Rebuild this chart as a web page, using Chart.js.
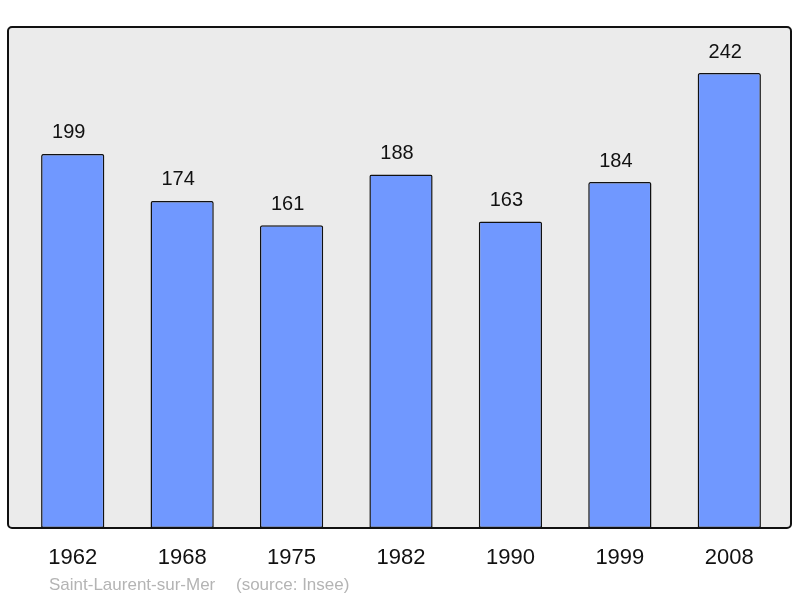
<!DOCTYPE html>
<html><head><meta charset="utf-8">
<script src="https://cdn.jsdelivr.net/npm/chart.js@4"></script>
<style>html,body{margin:0;padding:0;background:#fff}#w{width:800px;height:598px}</style>
</head><body><div id="w"><canvas id="c"></canvas></div>
<script>
const years = ["1962","1968","1975","1982","1990","1999","2008"];
const population = [199,174,161,188,163,184,242];
const footerName = "Saint-Laurent-sur-Mer";
const footerSource = "(source: Insee)";

const FONT = "'Liberation Sans', Arial, sans-serif";

const framePlugin = {
  id: 'frame',
  beforeDraw(chart) {
    const {ctx, chartArea: a} = chart;
    const x0 = a.left - 10, x1 = a.right + 7, y0 = a.top, y1 = a.bottom;
    ctx.save();
    ctx.beginPath();
    ctx.roundRect(x0, y0, x1 - x0, y1 - y0, 4);
    ctx.fillStyle = '#ebebeb';
    ctx.fill();
    ctx.restore();
  },
  afterDatasetsDraw(chart) {
    const {ctx, chartArea: a} = chart;
    const x0 = a.left - 10, x1 = a.right + 7, y0 = a.top, y1 = a.bottom;
    ctx.save();
    ctx.beginPath();
    ctx.roundRect(x0, y0, x1 - x0, y1 - y0, 4);
    ctx.lineWidth = 2;
    ctx.strokeStyle = '#111';
    ctx.stroke();
    // value labels
    const meta = chart.getDatasetMeta(0);
    ctx.fillStyle = '#111';
    ctx.font = "20px " + FONT;
    ctx.textAlign = 'center';
    ctx.textBaseline = 'middle';
    meta.data.forEach((bar, i) => {
      ctx.fillText(String(population[i]), bar.x - 4, bar.y - 21);
    });
    // footer
    ctx.fillStyle = '#b4b4b4';
    ctx.font = "17px " + FONT;
    ctx.textAlign = 'left';
    ctx.fillText(footerName, 49, 585);
    ctx.fillText(footerSource, 236, 585);
    ctx.restore();
  }
};

new Chart(document.getElementById('c'), {
  type: 'bar',
  data: {
    labels: years,
    datasets: [{
      data: population,
      backgroundColor: '#7098ff',
      borderColor: '#111',
      borderWidth: 1.5,
      borderRadius: {topLeft: 2, topRight: 2, bottomLeft: 0, bottomRight: 0},
      borderSkipped: false,
      barPercentage: 0.578,
      categoryPercentage: 1.0
    }]
  },
  options: {
    responsive: true,
    maintainAspectRatio: false,
    animation: false,
    layout: {padding: {left: 18, right: 16, top: 27, bottom: 0}},
    plugins: {legend: {display: false}, tooltip: {enabled: false}},
    scales: {
      x: {
        grid: {display: false, drawTicks: false},
        border: {display: false},
        ticks: {color: '#111', font: {family: FONT, size: 22}, padding: 17},
        afterFit(s) { s.height = 70; }
      },
      y: {
        display: false,
        min: 0,
        max: 266.5
      }
    }
  },
  plugins: [framePlugin]
});
</script>
</body></html>
